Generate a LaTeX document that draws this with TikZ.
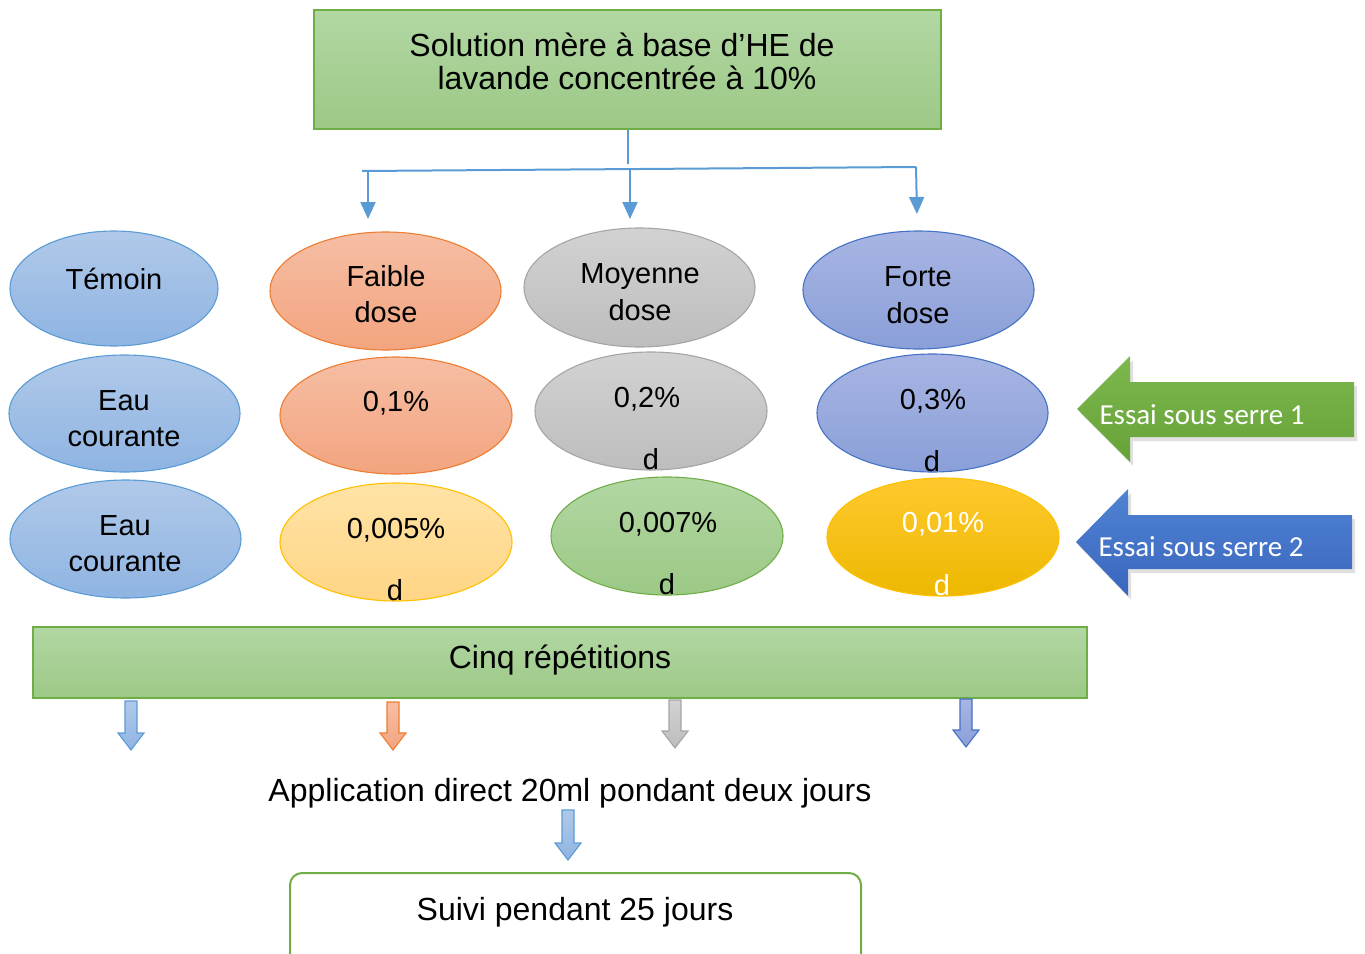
\documentclass[tikz,border=0pt]{standalone}
\usepackage{fontspec}
\setmainfont{Liberation Sans}
\newfontfamily\calib{Carlito}
\usetikzlibrary{shapes.geometric,arrows.meta}
\definecolor{cblue}{HTML}{5B9BD5}
\definecolor{gborder}{HTML}{70AD47}
\definecolor{gtop}{HTML}{B2D7A3}
\definecolor{gbot}{HTML}{9CC986}
\definecolor{lbtop}{HTML}{B0C9E9}
\definecolor{lbbot}{HTML}{8FB4E2}
\definecolor{ortop}{HTML}{F6BEA4}
\definecolor{orbot}{HTML}{F3A47F}
\definecolor{orborder}{HTML}{ED7D31}
\definecolor{grtop}{HTML}{D2D2D2}
\definecolor{grbot}{HTML}{BDBDBD}
\definecolor{grborder}{HTML}{A5A5A5}
\definecolor{dbtop}{HTML}{A8B5E3}
\definecolor{dbbot}{HTML}{8A9FD8}
\definecolor{dbborder}{HTML}{4472C4}
\definecolor{yltop}{HTML}{FFE3A6}
\definecolor{ylbot}{HTML}{FFD585}
\definecolor{ylborder}{HTML}{FFC000}
\definecolor{gdtop}{HTML}{FFC92E}
\definecolor{gdbot}{HTML}{EDB800}
\definecolor{agtop}{HTML}{7DB84F}
\definecolor{agbot}{HTML}{66A237}
\definecolor{abtop}{HTML}{5083D3}
\definecolor{abbot}{HTML}{3A66BE}
\tikzset{
  ellbase/.style={ellipse, inner sep=0pt, line width=1.1pt, minimum width=231pt, minimum height=118pt},
  lblue/.style={ellbase, draw=cblue, top color=lbtop, bottom color=lbbot},
  orang/.style={ellbase, draw=orborder, top color=ortop, bottom color=orbot},
  grey/.style={ellbase, draw=grborder, top color=grtop, bottom color=grbot},
  dblue/.style={ellbase, draw=dbborder, top color=dbtop, bottom color=dbbot},
  yell/.style={ellbase, draw=ylborder, top color=yltop, bottom color=ylbot},
  gree/.style={ellbase, draw=gborder, top color=gtop, bottom color=gbot},
  gold/.style={ellbase, draw=ylborder, top color=gdtop, bottom color=gdbot},
  txt/.style={anchor=base, inner sep=0pt, font=\fontsize{29}{34}\selectfont},
  bigtxt/.style={anchor=base, inner sep=0pt, font=\fontsize{32}{37}\selectfont},
  conn/.style={draw=cblue, line width=2pt},
  connarr/.style={conn, -{Triangle[width=15pt,length=17pt]}},
  shadowpoly/.style={fill=black, opacity=0.12},
}
\newcommand\blockdown[6]{% x, ytop, ybot, topcolor, bottomcolor, border
  \draw[line width=1.1pt, draw=#6, top color=#4, bottom color=#5]
    (#1-6,#2) -- (#1+6,#2) -- (#1+6,#3-17) -- (#1+13,#3-17) -- (#1,#3)
    -- (#1-13,#3-17) -- (#1-6,#3-17) -- cycle;}
\begin{document}
\begin{tikzpicture}[x=1pt,y=-1pt]
\useasboundingbox (0,0) rectangle (1365,953);
% top box
\node[draw=gborder, line width=1.2pt, top color=gtop, bottom color=gbot,
      minimum width=627pt, minimum height=119pt, inner sep=0pt] (top) at (627.5,69.5) {};
\node[bigtxt] (t1) at (622,56) {Solution mère à base d’HE de};
\node[bigtxt] (t2) at (627,89) {lavande concentrée à 10\%};
% connectors
\coordinate (hub) at (628,164);
\coordinate (hl) at (362,171);
\coordinate (hr) at (916,167);
\coordinate (s1) at (368,171);
\coordinate (s2) at (630,170);
\coordinate (s3) at (916,167);
\coordinate (e1) at (368,219);
\coordinate (e2) at (630,219);
\coordinate (e3) at (917,214);
\draw[conn] (top.south -| hub) -- (hub);
\draw[conn] (hl) -- (hr);
\draw[connarr] (s1) -- (e1);
\draw[connarr] (s2) -- (e2);
\draw[connarr] (s3) -- (e3);
% row 1
\node[lblue, minimum width=208pt, minimum height=115pt] (temoin) at (114,288.5) {};
\node[txt] (temointxt) at (114,289) {Témoin};
\node[orang] (faible) at (385.5,291) {};
\node[txt] (faible1) at (386,286.5) {Faible};
\node[txt] (faible2) at (386,322) {dose};
\node[grey, minimum height=119pt] (moyenne) at (639.5,287.5) {};
\node[txt] (moy1) at (640,283) {Moyenne};
\node[txt] (moy2) at (640,320) {dose};
\node[dblue] (forte) at (918.5,290) {};
\node[txt] (forte1) at (918,286) {Forte};
\node[txt] (forte2) at (918,323) {dose};
% row 2
\node[lblue, minimum height=117pt] (eau1) at (124.5,413.5) {};
\node[txt] (eau1a) at (124,410) {Eau};
\node[txt] (eau1b) at (124,446) {courante};
\node[orang, minimum width=232pt, minimum height=117pt] (p01) at (396,415.5) {};
\node[txt] (p01t) at (396,411) {0,1\%};
\node[grey, minimum width=232pt] (p02) at (651,411) {};
\node[txt] (p02t) at (647,407) {0,2\%};
\node[txt] (p02d) at (651,469.5) {d};
\node[dblue] (p03) at (932.5,413) {};
\node[txt] (p03t) at (933,409) {0,3\%};
\node[txt] (p03d) at (932,471) {d};
% row 3
\node[lblue] (eau2) at (125.5,539) {};
\node[txt] (eau2a) at (125,535) {Eau};
\node[txt] (eau2b) at (125,571.5) {courante};
\node[yell, minimum width=232pt] (p005) at (396,542) {};
\node[txt] (p005t) at (396,538.5) {0,005\%};
\node[txt] (p005d) at (395,600) {d};
\node[gree, minimum width=232pt] (p007) at (667,536) {};
\node[txt] (p007t) at (668,532.5) {0,007\%};
\node[txt] (p007d) at (667,594) {d};
\node[gold, minimum width=232pt] (p001) at (943,537) {};
\node[txt, text=white] (p001t) at (943,532.5) {0,01\%};
\node[txt, text=white] (p001d) at (942,595) {d};
% block arrows Essai
\fill[shadowpoly] (1080,413) -- (1133,360) -- (1133,386) -- (1357,386) -- (1357,441) -- (1133,441) -- (1133,466) -- cycle;
\path[top color=agtop, bottom color=agbot] (1077,409) -- (1130,356) -- (1130,382) -- (1354,382) -- (1354,437) -- (1130,437) -- (1130,462) -- cycle;
\node[anchor=base, inner sep=0pt, text=white, font=\calib\fontsize{29}{34}\selectfont] (essai1) at (1202,424) {Essai sous serre 1};
\fill[shadowpoly] (1079,546) -- (1131,493) -- (1131,519) -- (1355,519) -- (1355,573) -- (1131,573) -- (1131,600) -- cycle;
\path[top color=abtop, bottom color=abbot] (1076,542) -- (1128,489) -- (1128,515) -- (1352,515) -- (1352,569) -- (1128,569) -- (1128,596) -- cycle;
\node[anchor=base, inner sep=0pt, text=white, font=\calib\fontsize{29}{34}\selectfont] (essai2) at (1201,556.5) {Essai sous serre 2};
% Cinq repetitions
\node[draw=gborder, line width=1.2pt, top color=gtop, bottom color=gbot,
      minimum width=1054pt, minimum height=71pt, inner sep=0pt] (cinq) at (560,662.5) {};
\node[bigtxt] (cinqt) at (560,668) {Cinq répétitions};
% small arrows
\blockdown{131}{701}{750}{lbtop}{lbbot}{cblue}
\blockdown{393}{702}{750}{ortop}{orbot}{orborder}
\blockdown{675}{700}{748}{grtop}{grbot}{grborder}
\blockdown{966}{699}{747}{dbtop}{dbbot}{dbborder}
% application
\node[bigtxt] (appl) at (570,801) {Application direct 20ml pondant deux jours};
\blockdown{568}{810}{860}{lbtop}{lbbot}{cblue}
% suivi
\draw[draw=gborder, line width=2pt, fill=white, rounded corners=12pt] (290,873) rectangle (861,990);
\node[bigtxt] (suivi) at (575,920) {Suivi pendant 25 jours};
\end{tikzpicture}
\end{document}
